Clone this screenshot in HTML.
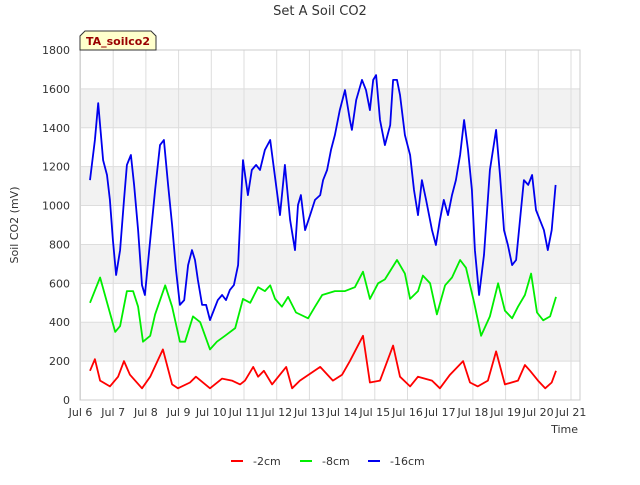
<!DOCTYPE html>
<html><head><meta charset="utf-8"><style>
body{margin:0;background:#fff;font-family:"Liberation Sans","DejaVu Sans",sans-serif;}
svg text{font-family:"DejaVu Sans","Liberation Sans",sans-serif;}
</style></head><body>
<svg id="chart" width="640" height="480" xmlns="http://www.w3.org/2000/svg">
<rect width="640" height="480" fill="#fff"/>
<text x="320" y="15" text-anchor="middle" font-size="13" fill="#333">Set A Soil CO2</text>
<text transform="translate(18,225) rotate(-90)" text-anchor="middle" font-size="11" fill="#333">Soil CO2 (mV)</text>
<text x="578" y="433" text-anchor="end" font-size="11" fill="#333">Time</text>
<g id="bands"></g><g id="grid"></g><g id="ticks"></g><g id="series"></g>
<rect x="80" y="50" width="500" height="350" fill="none" stroke="#ccc"/>
<g>
<path d="M80,50 L80,36 L85,31 L151,31 L156,36 L156,50 Z" fill="#ffffcc" stroke="#333"/>
<text x="118" y="45" text-anchor="middle" font-size="11" font-weight="bold" fill="#990000">TA_soilco2</text>
</g>
<g id="legend"></g>
</svg>
<script>
const yTicks=[0,200,400,600,800,1000,1200,1400,1600,1800];
const xTickDays=[6,7,8,9,10,11,12,13,14,15,16,17,18,19,20,21];
const xTickLabels=["Jul 6","Jul 7","Jul 8","Jul 9","Jul 10","Jul 11","Jul 12","Jul 13","Jul 14","Jul 15","Jul 16","Jul 17","Jul 18","Jul 19","Jul 20","Jul 21"];
const seriesNames=["-2cm","-8cm","-16cm"];
const seriesColors=["#ff0000","#00ee00","#0000ee"];
const tBlue=[6.29,6.44,6.54,6.69,6.81,6.90,6.99,7.09,7.21,7.33,7.42,7.54,7.64,7.76,7.88,7.97,8.13,8.28,8.43,8.55,8.68,8.80,8.92,9.04,9.17,9.29,9.41,9.50,9.59,9.72,9.84,9.96,10.08,10.20,10.33,10.45,10.57,10.69,10.82,10.91,10.97,11.12,11.24,11.37,11.49,11.64,11.80,11.92,12.10,12.25,12.41,12.56,12.65,12.74,12.87,13.02,13.17,13.33,13.42,13.54,13.66,13.78,13.93,14.09,14.24,14.30,14.43,14.61,14.73,14.85,14.95,15.04,15.16,15.31,15.47,15.56,15.68,15.77,15.92,16.08,16.20,16.32,16.44,16.57,16.75,16.87,16.99,17.11,17.24,17.36,17.48,17.61,17.73,17.85,17.97,18.06,18.19,18.34,18.52,18.71,18.83,18.95,19.07,19.20,19.32,19.44,19.56,19.69,19.81,19.93,20.05,20.17,20.29,20.41,20.53];
const vBlue=[1131,1337,1527,1234,1157,1029,823,643,771,1029,1209,1260,1106,874,591,540,823,1080,1311,1337,1106,900,669,489,514,694,771,720,617,489,489,411,463,514,540,514,566,591,694,1029,1234,1054,1183,1209,1183,1286,1337,1183,951,1209,926,771,1003,1054,874,951,1029,1054,1131,1183,1286,1363,1491,1594,1440,1389,1543,1646,1594,1491,1646,1671,1440,1311,1414,1646,1646,1569,1363,1260,1080,951,1131,1029,874,797,926,1029,951,1054,1131,1260,1440,1286,1080,771,540,746,1183,1389,1157,874,797,694,720,926,1131,1106,1157,977,926,874,771,874,1106];
const tGreen=[6.29,6.60,7.06,7.21,7.42,7.61,7.76,7.91,8.13,8.28,8.59,8.80,9.04,9.20,9.44,9.66,9.96,10.17,10.42,10.73,10.97,11.19,11.43,11.64,11.80,11.95,12.16,12.35,12.59,12.96,13.17,13.39,13.78,14.09,14.39,14.64,14.85,15.10,15.31,15.68,15.92,16.08,16.32,16.47,16.69,16.90,17.15,17.36,17.61,17.79,18.04,18.25,18.52,18.77,18.98,19.20,19.38,19.59,19.78,19.96,20.15,20.36,20.54];
const vGreen=[500,630,350,380,560,560,480,300,330,440,590,480,300,300,430,400,260,300,330,370,520,500,580,560,590,520,480,530,450,420,480,540,560,560,580,660,520,600,620,720,650,520,560,640,600,440,590,630,720,680,500,330,430,600,460,420,480,540,650,450,410,430,530];
const tRed=[6.29,6.44,6.60,6.90,7.15,7.33,7.51,7.88,8.13,8.52,8.80,8.98,9.35,9.53,9.96,10.33,10.63,10.88,11.03,11.28,11.43,11.61,11.86,12.29,12.47,12.71,13.33,13.72,14.00,14.24,14.64,14.85,15.16,15.56,15.77,16.08,16.32,16.75,16.99,17.30,17.70,17.91,18.15,18.46,18.71,18.98,19.38,19.59,19.75,19.99,20.21,20.41,20.54];
const vRed=[150,210,100,70,120,200,130,60,120,260,80,60,90,120,60,110,100,80,100,170,120,150,80,170,60,100,170,100,130,200,330,90,100,280,120,70,120,100,60,130,200,90,70,100,250,80,100,180,150,100,60,90,150];

const NS="http://www.w3.org/2000/svg";
const X0=80,X1=580,Y0=400,Y1=50;
const xs=d=>80.5+(d-6)*32.7;
const ys=v=>Y0-(v/1800)*(Y0-Y1);
function mk(tag,attrs,parent){const e=document.createElementNS(NS,tag);for(const k in attrs)e.setAttribute(k,attrs[k]);parent.appendChild(e);return e;}
const bands=document.getElementById('bands'),grid=document.getElementById('grid'),ticks=document.getElementById('ticks'),series=document.getElementById('series'),legend=document.getElementById('legend');
for(let i=1;i<yTicks.length-1;i+=2){
  const r=mk('rect',{x:X0,y:ys(yTicks[i+1]),width:X1-X0,height:ys(yTicks[i])-ys(yTicks[i+1]),fill:'#f2f2f2'},bands);
  
  
}
yTicks.forEach(v=>{
  const l=mk('line',{x1:X0,x2:X1,y1:ys(v),y2:ys(v),stroke:'#dddddd'},grid);
  
  
  const t=mk('text',{x:70,y:ys(v)+4,'text-anchor':'end','font-size':11,fill:'#333'},ticks);
  t.textContent=v;
  
  
});
xTickDays.forEach((d,i)=>{
  const l=mk('line',{x1:xs(d),x2:xs(d),y1:Y1,y2:Y0,stroke:'#dddddd'},grid);
  
  
  const t=mk('text',{x:xs(d),y:416,'text-anchor':'middle','font-size':11,fill:'#333'},ticks);
  t.textContent=xTickLabels[i];
  
  
});
[[tRed,vRed],[tGreen,vGreen],[tBlue,vBlue]].forEach((s,i)=>{
  const pts=s[0].map((t,j)=>xs(t).toFixed(1)+','+ys(s[1][j]).toFixed(1)).join(' ');
  const p=mk('polyline',{points:pts,fill:'none',stroke:seriesColors[i],'stroke-width':1.8,'stroke-linejoin':'round'},series);
  
  
});
const lx=[231,300,368];
seriesNames.forEach((n,i)=>{
  const g=mk('g',{},legend);
  
  
  mk('line',{x1:lx[i],x2:lx[i]+12,y1:461,y2:461,stroke:seriesColors[i],'stroke-width':2},g);
  const t=mk('text',{x:lx[i]+22,y:465,'font-size':11,fill:'#333'},g);
  t.textContent=n;
});
</script>
</body></html>
